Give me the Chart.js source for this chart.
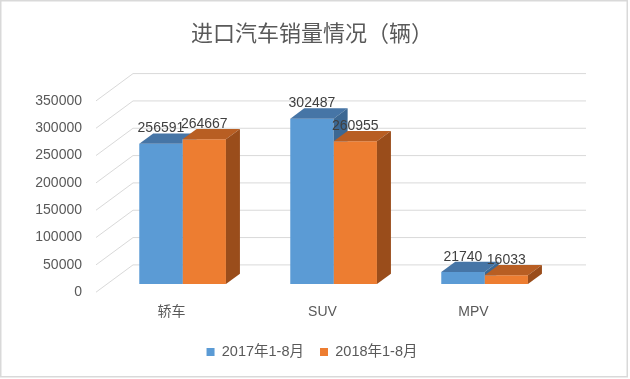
<!DOCTYPE html>
<html>
<head>
<meta charset="utf-8">
<script src="https://cdn.jsdelivr.net/npm/chart.js@4/dist/chart.umd.min.js"></script>
<style>
  html, body { margin: 0; padding: 0; background: #ffffff; }
  #wrap { width: 630px; height: 379px; }
</style>
</head>
<body>
<div id="wrap"><canvas id="c" width="630" height="379"></canvas></div>
<script>
// ---- data ----
const categories = ['轿车', 'SUV', 'MPV'];
const seriesNames = ['2017年1-8月', '2018年1-8月'];
const sales2017 = [256591, 302487, 21740];
const sales2018 = [264667, 260955, 16033];
const yTicks = [0, 50000, 100000, 150000, 200000, 250000, 300000, 350000];
const chartTitle = '进口汽车销量情况（辆）';

// ---- styles ----
const FONT = "'Liberation Sans', 'Noto Sans CJK SC', sans-serif";
const CJK = "'Noto Sans CJK SC', 'Liberation Sans', sans-serif";
const TEXT = '#595959';
const GRID = '#d9d9d9';
const FRONT = ['#5B9BD5', '#ED7D31'];
const TOP = ['#4675A6', '#B85E23'];
const SIDE = ['#3C6893', '#9A4D1B'];
const DEPTH = { x: 37, y: -27.3 };      // full floor depth
const BAR_OFF = { x: 11.1, y: -8.2 };   // bar front face offset
const BAR_DEPTH = { x: 14, y: -10.3 };  // bar thickness

const threeD = {
  id: 'threeD',
  beforeDraw(chart) {
    const ctx = chart.ctx;
    ctx.save();
    ctx.fillStyle = '#ffffff';
    ctx.fillRect(0, 0, chart.width, chart.height);
    ctx.strokeStyle = '#d9d9d9';
    ctx.lineWidth = 1.5;
    ctx.strokeRect(0.75, 0.75, 626.5, 376);
    ctx.restore();
  },
  beforeDatasetsDraw(chart) {
    const ctx = chart.ctx;
    const y = chart.scales.y;
    const a = chart.chartArea;
    ctx.save();
    ctx.strokeStyle = GRID;
    ctx.lineWidth = 1;
    yTicks.forEach(v => {
      const py = y.getPixelForValue(v);
      ctx.beginPath();
      ctx.moveTo(a.left, py);
      ctx.lineTo(a.left + DEPTH.x, py + DEPTH.y);
      ctx.lineTo(a.right + DEPTH.x, py + DEPTH.y);
      ctx.stroke();
    });
    ctx.restore();
  },
  beforeDatasetDraw(chart) {
    chart.ctx.save();
    chart.ctx.translate(BAR_OFF.x, BAR_OFF.y);
  },
  afterDatasetDraw(chart) {
    chart.ctx.restore();
  },
  afterDatasetsDraw(chart) {
    const ctx = chart.ctx;
    const metas = chart.data.datasets.map((d, di) => chart.getDatasetMeta(di));
    ctx.save();
    ctx.translate(BAR_OFF.x, BAR_OFF.y);
    categories.forEach((c, i) => {
      metas.forEach((meta, di) => {
        const p = meta.data[i].getProps(['x', 'y', 'base', 'width'], true);
        const x0 = p.x - p.width / 2, x1 = p.x + p.width / 2;
        ctx.save();
        // hide parts that lie behind the front faces of later series
        ctx.beginPath();
        ctx.rect(-50, -50, chart.width + 100, chart.height + 100);
        for (let k = di + 1; k < metas.length; k++) {
          const q = metas[k].data[i].getProps(['x', 'y', 'base', 'width'], true);
          ctx.rect(q.x - q.width / 2, q.y, q.width, q.base - q.y);
        }
        ctx.clip('evenodd');
        ctx.fillStyle = TOP[di];
        ctx.beginPath();
        ctx.moveTo(x0, p.y);
        ctx.lineTo(x1, p.y);
        ctx.lineTo(x1 + BAR_DEPTH.x, p.y + BAR_DEPTH.y);
        ctx.lineTo(x0 + BAR_DEPTH.x, p.y + BAR_DEPTH.y);
        ctx.closePath();
        ctx.fill();
        ctx.fillStyle = SIDE[di];
        ctx.beginPath();
        ctx.moveTo(x1, p.y);
        ctx.lineTo(x1 + BAR_DEPTH.x, p.y + BAR_DEPTH.y);
        ctx.lineTo(x1 + BAR_DEPTH.x, p.base + BAR_DEPTH.y);
        ctx.lineTo(x1, p.base);
        ctx.closePath();
        ctx.fill();
        ctx.restore();
      });
    });
    ctx.restore();

    ctx.save();
    ctx.font = '14px ' + FONT;
    ctx.fillStyle = '#404040';
    ctx.textAlign = 'center';
    ctx.textBaseline = 'alphabetic';
    chart.data.datasets.forEach((ds, di) => {
      chart.getDatasetMeta(di).data.forEach((bar, i) => {
        const p = bar.getProps(['x', 'y'], true);
        ctx.fillText(String(ds.data[i]), p.x + BAR_OFF.x, p.y + BAR_OFF.y + BAR_DEPTH.y - 1);
      });
    });
    ctx.restore();
  }
};

new Chart(document.getElementById('c'), {
  type: 'bar',
  data: {
    labels: categories,
    datasets: [
      { label: seriesNames[0], data: sales2017, backgroundColor: FRONT[0], borderWidth: 0, clip: false },
      { label: seriesNames[1], data: sales2018, backgroundColor: FRONT[1], borderWidth: 0, clip: false }
    ]
  },
  options: {
    responsive: false,
    animation: false,
    events: [],
    layout: { padding: { left: 0, right: 6, top: 0, bottom: 9.75 } },
    datasets: { bar: { barPercentage: 1, categoryPercentage: 0.574 } },
    scales: {
      x: {
        grid: { display: false, drawTicks: false },
        border: { display: false },
        ticks: { color: TEXT, font: { size: 14, family: FONT }, padding: 12 },
        afterFit: s => { s.height = 36.55; }
      },
      y: {
        min: 0, max: 350000,
        grid: { display: false, drawTicks: false },
        border: { display: false },
        afterBuildTicks: s => { s.ticks = yTicks.map(v => ({ value: v })); },
        ticks: { color: TEXT, font: { size: 14, family: FONT }, padding: 14, callback: v => String(v) },
        afterFit: s => { s.width = 96; }
      },
      yR: {
        type: 'linear', position: 'right', display: true,
        grid: { display: false, drawTicks: false },
        border: { display: false },
        ticks: { display: false },
        afterFit: s => { s.width = 75; }
      }
    },
    plugins: {
      title: {
        display: true, text: chartTitle, color: TEXT,
        font: { size: 22, family: CJK, weight: 'normal' },
        padding: { top: 19.8, bottom: 54.7 }
      },
      legend: {
        position: 'bottom',
        labels: { color: TEXT, font: { size: 14.5, family: FONT }, boxWidth: 8, boxHeight: 8, padding: 16 }
      },
      tooltip: { enabled: false }
    }
  },
  plugins: [threeD]
});
</script>
</body>
</html>
